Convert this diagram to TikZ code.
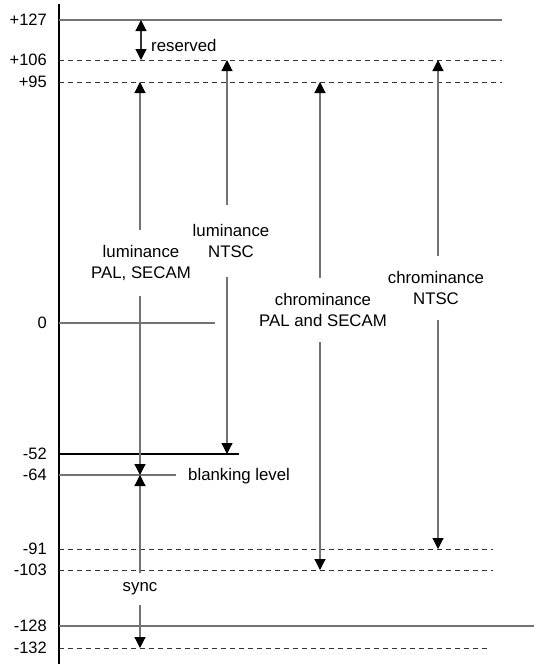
\documentclass[tikz,border=0pt]{standalone}
\usepackage{fontspec}
\setmainfont{Liberation Sans}
\usetikzlibrary{arrows.meta}

\def\AxisX{59}
\def\LineCol{black!55}

\tikzset{
  axis/.style={draw=black, line width=1.1pt},
  solidlvl/.style={draw=\LineCol, line width=1.2pt},
  blacklvl/.style={draw=black, line width=1.1pt},
  dashlvl/.style={draw=black!80, line width=1pt, dash pattern=on 5pt off 4pt},
  num/.style={anchor=east, inner sep=0pt, font=\fontsize{16.5}{20}\selectfont},
  sigtext/.style={align=center, inner xsep=1pt, inner ysep=15pt, font=\fontsize{16.8}{20.5}\selectfont},
  sidetext/.style={anchor=west, inner sep=0pt, font=\fontsize{16.8}{20.5}\selectfont},
  tip/.tip={Triangle[length=11pt,width=11pt,black]},
  sig/.style={draw=\LineCol, line width=1.2pt, -tip},
  sigboth/.style={draw=black!80, line width=1.2pt, tip-tip},
}

\begin{document}
\begin{tikzpicture}[x=1pt,y=-1pt]
  \useasboundingbox (0,0) rectangle (534,665);

  % --- eje ---
  \coordinate (axTop) at (\AxisX,4);
  \coordinate (axBot) at (\AxisX,664);
  \draw[axis] (axTop) -- (axBot);

  % --- niveles ---
  \foreach \n/\v/\y/\e/\s in {%
    a/+127/20/502/solidlvl,
    b/+106/60/502/dashlvl,
    c/+95/82/502/dashlvl,
    d/0/323/215/solidlvl,
    e/-52/454/239/blacklvl,
    f/-64/475/176/solidlvl,
    g/-91/549/493/dashlvl,
    h/-103/570/493/dashlvl,
    i/-128/626/534/solidlvl,
    j/-132/648/490/dashlvl}
  {
    \node[num] (t\n) at (47,\y) {\v};
    \coordinate (s\n) at (\AxisX,\y);
    \coordinate (e\n) at (\e,\y);
    \draw[\s] (s\n) -- (e\n);
  }

  % --- textos ---
  \node[sidetext] (reserved) at (151,45) {reserved};
  \node[sidetext] (blanking) at (188,476) {blanking level};
  \node[sigtext] (lumPAL) at (141,263) {luminance\\PAL, SECAM};
  \node[sigtext, inner ysep=19pt] (lumNTSC) at (231,241) {luminance\\NTSC};
  \node[sigtext] (chromPAL) at (323,310) {chrominance\\PAL and SECAM};
  \node[sigtext] (chromNTSC) at (436,288) {chrominance\\NTSC};
  \node[sigtext, inner ysep=10pt] (sync) at (140,589) {sync};

  % --- flechas ---
  \coordinate (rsTop) at (141,20);
  \coordinate (rsBot) at (141,60);
  \draw[sigboth] (rsTop) -- (rsBot);

  \coordinate (lpTop) at (140,82);
  \coordinate (lpBot) at (140,475);
  \draw[sig] (lumPAL.north -| lpTop) -- (lpTop);
  \draw[sig] (lumPAL.south -| lpBot) -- (lpBot);

  \coordinate (lnTop) at (227,60);
  \coordinate (lnBot) at (227,454);
  \draw[sig] (lumNTSC.north -| lnTop) -- (lnTop);
  \draw[sig] (lumNTSC.south -| lnBot) -- (lnBot);

  \coordinate (cpTop) at (320,82);
  \coordinate (cpBot) at (320,570);
  \draw[sig] (chromPAL.north -| cpTop) -- (cpTop);
  \draw[sig] (chromPAL.south -| cpBot) -- (cpBot);

  \coordinate (cnTop) at (438,60);
  \coordinate (cnBot) at (438,549);
  \draw[sig] (chromNTSC.north -| cnTop) -- (cnTop);
  \draw[sig] (chromNTSC.south -| cnBot) -- (cnBot);

  \coordinate (syTop) at (140,475);
  \coordinate (syBot) at (140,648);
  \draw[sig] (sync.north -| syTop) -- (syTop);
  \draw[sig] (sync.south -| syBot) -- (syBot);
\end{tikzpicture}
\end{document}
